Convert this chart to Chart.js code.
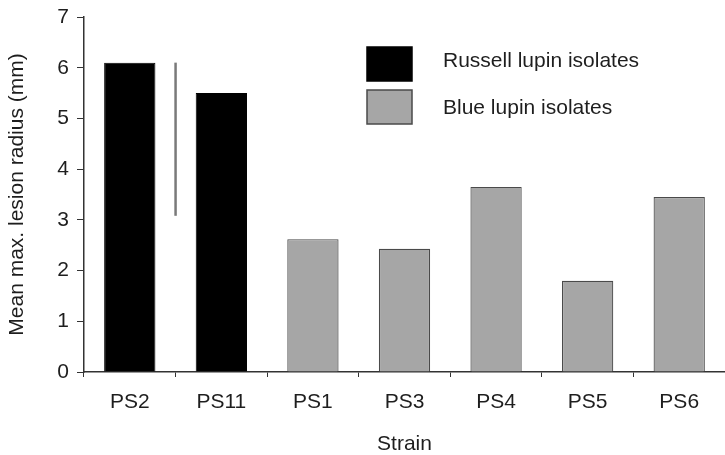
<!DOCTYPE html>
<html>
<head>
<meta charset="utf-8">
<script src="https://cdn.jsdelivr.net/npm/chart.js@4"></script>
<style>
  body { margin: 0; background: #fff; }
  #wrap { width: 725px; height: 455px; }
</style>
</head>
<body>
<div id="wrap"><canvas id="myChart" width="725" height="455"></canvas></div>
<script>
const strains = ["PS2", "PS11", "PS1", "PS3", "PS4", "PS5", "PS6"];
const russell = [6.1, 5.5, null, null, null, null, null];
const blue = [null, null, 2.62, 2.43, 3.65, 1.8, 3.45];
const lsdRange = [3.08, 6.1]; // vertical bar drawn between PS2 and PS11
const yTicks = [0, 1, 2, 3, 4, 5, 6, 7];

const fontFam = "'Liberation Sans', Arial, sans-serif";

const lsdLine = {
  id: "lsdLine",
  afterDatasetsDraw(chart) {
    const x = chart.scales.x, y = chart.scales.y;
    const ctx = chart.ctx;
    const px = (x.getPixelForValue(0) + x.getPixelForValue(1)) / 2;
    ctx.save();
    ctx.strokeStyle = "#7a7a7a";
    ctx.lineWidth = 2.5;
    ctx.beginPath();
    ctx.moveTo(px, y.getPixelForValue(lsdRange[0]));
    ctx.lineTo(px, y.getPixelForValue(lsdRange[1]));
    ctx.stroke();
    ctx.restore();
  }
};

const boxLegend = {
  id: "boxLegend",
  afterDraw(chart) {
    const ctx = chart.ctx;
    const a = chart.chartArea;
    const bx = a.left + 283, by = a.top + 30;
    ctx.save();
    chart.data.datasets.forEach((ds, i) => {
      const top = by + i * 43;
      ctx.fillStyle = ds.backgroundColor;
      ctx.strokeStyle = ds.borderColor;
      ctx.lineWidth = 1.5;
      ctx.fillRect(bx, top, 45, 34);
      ctx.strokeRect(bx, top, 45, 34);
      ctx.fillStyle = "#1e1e1e";
      ctx.font = "21px " + fontFam;
      ctx.textBaseline = "middle";
      ctx.fillText(ds.label, bx + 76, a.top + 44 + i * 47);
    });
    ctx.restore();
  }
};

const data = {
  labels: strains,
  datasets: [
    {
      label: "Russell lupin isolates",
      backgroundColor: "#000000",
      borderColor: "#000000",
      borderWidth: 1,
      data: russell,
    },
    {
      label: "Blue lupin isolates",
      backgroundColor: "#a6a6a6",
      borderColor: "#4a4a4a",
      borderWidth: 1.2,
      data: blue,
    },
  ],
};

const config = {
  type: "bar",
  data: data,
  options: {
    responsive: false,
    animation: false,
    barPercentage: 0.56,
    categoryPercentage: 1,
    layout: { padding: { top: 17, right: 0, left: 0, bottom: 0 } },
    plugins: {
      legend: { display: false },
      tooltip: { enabled: false },
    },
    scales: {
      x: {
        stacked: true,
        border: { color: "#333", width: 1.5 },
        grid: { display: true, drawOnChartArea: false, tickLength: 5, color: "#333", offset: true },
        ticks: { color: "#1e1e1e", font: { family: fontFam, size: 21 }, padding: 13 },
        title: { display: true, text: "Strain", color: "#1e1e1e", font: { family: fontFam, size: 21, lineHeight: 1 }, padding: { top: 0, bottom: 0 } },
        afterFit(s) { s.height = 83; s.paddingLeft = 0; s.paddingRight = 0; },
      },
      y: {
        stacked: true,
        min: 0,
        max: 7,
        afterBuildTicks(s) { s.ticks = yTicks.map(v => ({ value: v })); },
        border: { color: "#333", width: 1.5 },
        grid: { display: true, drawOnChartArea: false, tickLength: 7, color: "#333" },
        ticks: { color: "#1e1e1e", font: { family: fontFam, size: 21 }, padding: 8 },
        title: { display: true, text: "Mean max. lesion radius (mm)", color: "#1e1e1e", font: { family: fontFam, size: 21, lineHeight: 1 }, padding: { top: 7, bottom: 0 } },
        afterFit(s) { s.width = 84; s.paddingTop = 0; s.paddingBottom = 0; },
      },
    },
  },
  plugins: [lsdLine, boxLegend],
};

const myChart = new Chart(document.getElementById("myChart"), config);
</script>
</body>
</html>
